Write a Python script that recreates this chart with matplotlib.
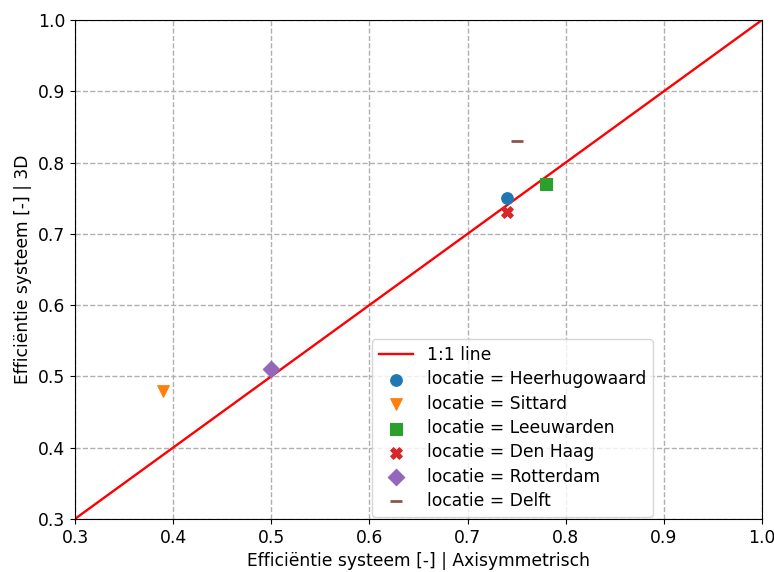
import matplotlib
matplotlib.use("Agg")
import matplotlib.pyplot as plt

locaties = ["Heerhugowaard", "Sittard", "Leeuwarden", "Den Haag", "Rotterdam", "Delft"]
x_axi = [0.74, 0.39, 0.78, 0.74, 0.50, 0.75]
y_3d = [0.75, 0.48, 0.77, 0.73, 0.51, 0.83]
markers = ["o", "v", "s", "X", "D", "_"]
colors = ["#1f77b4", "#ff7f0e", "#2ca02c", "#d62728", "#9467bd", "#8c564b"]
line_xy = [0.3, 1.0]

plt.rcParams['font.size'] = 12.3
fig = plt.figure(figsize=(7.74, 5.72), dpi=100)
ax = fig.add_axes([0.097, 0.093, 0.8875, 0.872])

ax.plot(line_xy, line_xy, color="red", lw=1.7, label="1:1 line", zorder=2)
for loc, x, y, m, c in zip(locaties, x_axi, y_3d, markers, colors):
    ax.scatter([x], [y], marker=m, color=c, s=70, label=f"locatie = {loc}", zorder=3,
               linewidths=2 if m == "_" else 0.8, edgecolors=c if m != "_" else None)

ax.set_xlim(0.3, 1.0)
ax.set_ylim(0.3, 1.0)
ax.grid(True, linestyle="--", color="#b0b0b0", lw=1)
ax.set_axisbelow(True)
ax.set_xlabel("Efficiëntie systeem [-] | Axisymmetrisch")
ax.set_ylabel("Efficiëntie systeem [-] | 3D")
ax.legend(loc="lower right", bbox_to_anchor=(0.841, 0.004), borderaxespad=0,
          labelspacing=0.37)
fig.savefig("out.png", dpi=100)
